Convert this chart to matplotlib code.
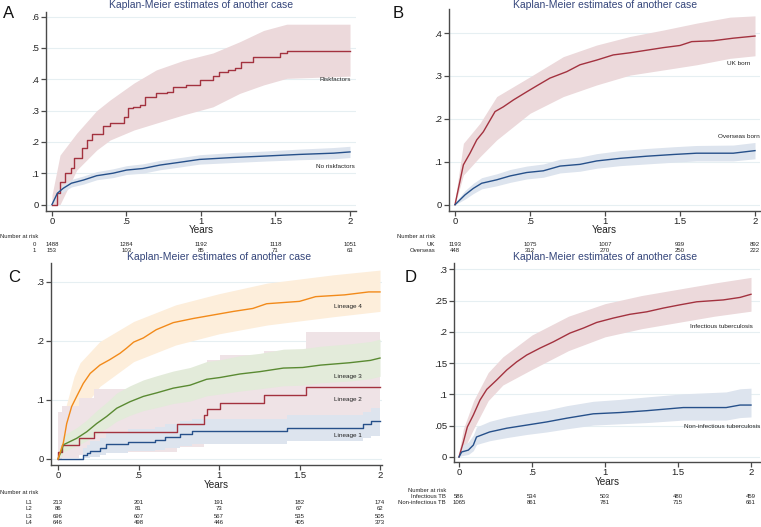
import matplotlib
matplotlib.use("Agg")
import matplotlib.pyplot as plt
import matplotlib.transforms as mtransforms
import numpy as np

plt.rcParams['font.family'] = ['Liberation Sans', 'DejaVu Sans']

W, H = 761, 527

# ---------------- DATA ----------------
risk_times = [0, 0.5, 1, 1.5, 2]

# Panel A
a_rf_t = [0, 0.036, 0.054, 0.087, 0.13, 0.148, 0.2, 0.237, 0.266, 0.344, 0.389, 0.48, 0.512, 0.546, 0.59, 0.624, 0.70, 0.77, 0.81, 0.90, 0.99, 1.08, 1.12, 1.18, 1.23, 1.27, 1.35, 1.42, 1.53, 1.575, 2.0]
a_rf_v = [0, 0.037, 0.073, 0.10, 0.116, 0.148, 0.18, 0.206, 0.225, 0.25, 0.26, 0.28, 0.307, 0.312, 0.318, 0.344, 0.355, 0.36, 0.374, 0.382, 0.398, 0.41, 0.424, 0.43, 0.435, 0.456, 0.47, 0.472, 0.483, 0.492, 0.492]
a_rf_ci_t = [0, 0.054, 0.166, 0.3, 0.39, 0.55, 0.70, 0.88, 1.08, 1.26, 1.42, 1.575, 2.0]
a_rf_hi = [0.03, 0.158, 0.228, 0.30, 0.334, 0.388, 0.43, 0.46, 0.484, 0.52, 0.556, 0.576, 0.576]
a_rf_lo = [0, 0.0, 0.11, 0.174, 0.206, 0.238, 0.26, 0.286, 0.312, 0.355, 0.382, 0.403, 0.41]

a_no_t = [0, 0.036, 0.076, 0.13, 0.21, 0.3, 0.41, 0.5, 0.61, 0.725, 0.86, 0.99, 1.21, 1.44, 1.66, 1.89, 2.0]
a_no_v = [0, 0.036, 0.052, 0.068, 0.078, 0.092, 0.10, 0.11, 0.115, 0.126, 0.135, 0.144, 0.15, 0.155, 0.16, 0.164, 0.168]
a_no_hi = [0.01, 0.046, 0.064, 0.080, 0.091, 0.105, 0.114, 0.124, 0.13, 0.141, 0.15, 0.159, 0.166, 0.171, 0.177, 0.182, 0.186]
a_no_lo = [0, 0.026, 0.040, 0.056, 0.065, 0.079, 0.086, 0.096, 0.10, 0.111, 0.12, 0.129, 0.134, 0.139, 0.143, 0.146, 0.150]

a_groups = ["0", "1"]
a_risk = [[1488, 1284, 1192, 1118, 1051], [153, 103, 85, 71, 63]]

# Panel B
b_uk_t = [0, 0.056, 0.1, 0.145, 0.189, 0.267, 0.322, 0.389, 0.478, 0.545, 0.633, 0.745, 0.833, 0.945, 1.055, 1.167, 1.278, 1.389, 1.5, 1.578, 1.72, 1.855, 2.0]
b_uk_v = [0, 0.093, 0.12, 0.151, 0.17, 0.217, 0.228, 0.244, 0.263, 0.277, 0.295, 0.31, 0.326, 0.337, 0.349, 0.354, 0.36, 0.366, 0.371, 0.38, 0.382, 0.388, 0.393]
b_uk_ci_t = [0, 0.056, 0.167, 0.278, 0.5, 0.722, 0.944, 1.167, 1.389, 1.61, 1.833, 2.0]
b_uk_hi = [0.01, 0.143, 0.19, 0.252, 0.298, 0.345, 0.372, 0.392, 0.407, 0.423, 0.437, 0.44]
b_uk_lo = [0, 0.069, 0.112, 0.151, 0.213, 0.252, 0.279, 0.302, 0.314, 0.326, 0.341, 0.347]

b_os_t = [0, 0.067, 0.122, 0.178, 0.278, 0.367, 0.478, 0.589, 0.7, 0.833, 0.945, 1.1, 1.278, 1.455, 1.61, 1.855, 2.0]
b_os_v = [0, 0.023, 0.038, 0.05, 0.058, 0.067, 0.075, 0.079, 0.09, 0.094, 0.102, 0.108, 0.113, 0.117, 0.12, 0.12, 0.126]
b_os_hi = [0.005, 0.033, 0.05, 0.063, 0.072, 0.082, 0.09, 0.095, 0.106, 0.111, 0.119, 0.126, 0.131, 0.135, 0.138, 0.139, 0.145]
b_os_lo = [0, 0.013, 0.026, 0.037, 0.044, 0.052, 0.06, 0.064, 0.074, 0.078, 0.085, 0.091, 0.095, 0.099, 0.102, 0.102, 0.107]

b_groups = ["UK", "Overseas"]
b_risk = [[1193, 1075, 1007, 939, 892], [448, 312, 270, 250, 222]]

# Panel C
c_l4_t = [0, 0.012, 0.033, 0.054, 0.085, 0.116, 0.157, 0.2, 0.26, 0.32, 0.385, 0.427, 0.47, 0.53, 0.61, 0.716, 0.84, 0.965, 1.09, 1.21, 1.296, 1.5, 1.6, 1.78, 1.93, 2.0]
c_l4_v = [0, 0.01, 0.027, 0.06, 0.089, 0.106, 0.128, 0.145, 0.159, 0.168, 0.179, 0.188, 0.198, 0.205, 0.219, 0.231, 0.238, 0.244, 0.25, 0.255, 0.263, 0.267, 0.275, 0.278, 0.283, 0.283]
c_l4_ci_t = [0, 0.05, 0.1, 0.137, 0.26, 0.47, 0.73, 1.0, 1.3, 1.71, 2.0]
c_l4_hi = [0.02, 0.09, 0.14, 0.163, 0.199, 0.233, 0.261, 0.28, 0.298, 0.312, 0.32]
c_l4_lo = [0, 0.02, 0.06, 0.08, 0.123, 0.165, 0.193, 0.212, 0.227, 0.241, 0.25]

c_l3_t = [0, 0.023, 0.033, 0.116, 0.178, 0.24, 0.302, 0.365, 0.447, 0.53, 0.613, 0.716, 0.82, 0.923, 1.006, 1.13, 1.255, 1.4, 1.52, 1.63, 1.81, 1.94, 2.0]
c_l3_v = [0, 0.015, 0.024, 0.035, 0.046, 0.06, 0.072, 0.086, 0.097, 0.106, 0.112, 0.12, 0.125, 0.135, 0.138, 0.144, 0.148, 0.154, 0.155, 0.159, 0.163, 0.167, 0.171]
c_l3_hi = [0.01, 0.03, 0.04, 0.053, 0.066, 0.082, 0.096, 0.112, 0.124, 0.134, 0.141, 0.149, 0.155, 0.165, 0.168, 0.175, 0.179, 0.186, 0.187, 0.191, 0.195, 0.199, 0.203]
c_l3_lo = [0, 0.005, 0.012, 0.022, 0.031, 0.042, 0.052, 0.064, 0.074, 0.082, 0.087, 0.094, 0.098, 0.107, 0.11, 0.115, 0.119, 0.124, 0.125, 0.129, 0.132, 0.136, 0.14]

c_l2_t = [0, 0.003, 0.023, 0.132, 0.224, 0.737, 0.907, 0.923, 1.006, 1.28, 1.54, 2.0]
c_l2_v = [0, 0.012, 0.024, 0.035, 0.046, 0.059, 0.074, 0.084, 0.095, 0.108, 0.122, 0.122]
c_l2_hi = [0.08, 0.08, 0.09, 0.104, 0.118, 0.14, 0.158, 0.168, 0.176, 0.183, 0.215, 0.215]
c_l2_lo = [0, 0, 0.002, 0.006, 0.012, 0.02, 0.03, 0.036, 0.044, 0.054, 0.066, 0.066]

c_l1_t = [0, 0.157, 0.182, 0.2, 0.26, 0.298, 0.437, 0.6, 0.665, 0.758, 0.83, 1.42, 1.896, 1.944, 2.0]
c_l1_v = [0, 0.006, 0.01, 0.014, 0.018, 0.025, 0.029, 0.032, 0.038, 0.042, 0.047, 0.053, 0.059, 0.064, 0.064]
c_l1_hi = [0, 0.018, 0.024, 0.03, 0.036, 0.045, 0.05, 0.054, 0.06, 0.064, 0.068, 0.074, 0.08, 0.086, 0.086]
c_l1_lo = [0, 0.001, 0.002, 0.004, 0.006, 0.01, 0.013, 0.015, 0.019, 0.022, 0.026, 0.03, 0.035, 0.039, 0.039]

c_groups = ["L1", "L2", "L3", "L4"]
c_risk = [[213, 201, 191, 182, 174], [86, 81, 73, 67, 62], [696, 607, 567, 535, 505], [646, 498, 446, 405, 373]]

# Panel D
d_in_t = [0, 0.03, 0.057, 0.098, 0.144, 0.19, 0.258, 0.327, 0.395, 0.464, 0.555, 0.646, 0.76, 0.852, 0.943, 1.057, 1.17, 1.286, 1.4, 1.51, 1.628, 1.81, 1.925, 2.0]
d_in_v = [0, 0.024, 0.048, 0.067, 0.091, 0.108, 0.123, 0.139, 0.152, 0.163, 0.174, 0.184, 0.198, 0.206, 0.215, 0.222, 0.228, 0.232, 0.238, 0.243, 0.248, 0.251, 0.255, 0.26]
d_in_ci_t = [0, 0.03, 0.1, 0.2, 0.3, 0.5, 0.75, 1.0, 1.25, 1.5, 1.75, 2.0]
d_in_hi = [0.008, 0.045, 0.09, 0.135, 0.16, 0.195, 0.225, 0.245, 0.258, 0.268, 0.278, 0.287]
d_in_lo = [0, 0.01, 0.045, 0.09, 0.115, 0.14, 0.17, 0.192, 0.205, 0.215, 0.225, 0.233]

d_ni_t = [0, 0.018, 0.064, 0.098, 0.12, 0.21, 0.327, 0.464, 0.6, 0.738, 0.92, 1.1, 1.286, 1.536, 1.83, 1.925, 2.0]
d_ni_v = [0, 0.008, 0.011, 0.019, 0.032, 0.04, 0.046, 0.051, 0.056, 0.062, 0.069, 0.071, 0.074, 0.079, 0.079, 0.083, 0.083]
d_ni_hi = [0.005, 0.018, 0.024, 0.035, 0.048, 0.057, 0.064, 0.07, 0.075, 0.082, 0.089, 0.092, 0.096, 0.101, 0.104, 0.109, 0.11]
d_ni_lo = [0, 0.002, 0.004, 0.01, 0.02, 0.026, 0.031, 0.036, 0.04, 0.045, 0.051, 0.053, 0.055, 0.059, 0.059, 0.063, 0.064]

d_groups = ["Infectious TB", "Non-infectious TB"]
d_risk = [[586, 534, 503, 480, 459], [1065, 861, 781, 715, 661]]

# ---------------- STYLE ----------------
RED = "#a3323f"
BLUE = "#26508a"
ORANGE = "#f28a1a"
GREEN = "#5a8a32"
RED_BAND = "#ecd9db"
BLUE_BAND = "#dde4ee"
ORANGE_BAND = "#fdeedb"
GREEN_BAND = "#e3ebda"
L2_BAND = "#efe3e6"
TITLE_C = "#34457a"
GRID_C = "#e6eff2"
SPINE_C = "#4a4a4a"
TXT = "#222222"

fig = plt.figure(figsize=(W / 100, H / 100), dpi=100)


def make_ax(left, right, top, bottom, xlim, ylim, yticks, ylabels):
    ax = fig.add_axes([left / W, 1 - bottom / H, (right - left) / W, (bottom - top) / H])
    ax.set_xlim(*xlim)
    ax.set_ylim(*ylim)
    for s in ["top", "right"]:
        ax.spines[s].set_visible(False)
    for s in ["left", "bottom"]:
        ax.spines[s].set_color(SPINE_C)
        ax.spines[s].set_linewidth(1.0)
    ax.set_xticks(risk_times)
    ax.set_xticklabels(["0", ".5", "1", "1.5", "2"])
    ax.set_yticks(yticks)
    ax.set_yticklabels(ylabels)
    ax.tick_params(axis="both", labelsize=6.8, length=3.5, width=0.9, color=SPINE_C, labelcolor=TXT, pad=1.5)
    ax.tick_params(axis="x", pad=1)
    for y in yticks:
        ax.axhline(y, color=GRID_C, lw=0.8, zorder=0)
    ax.set_xlabel("Years", fontsize=7.2, labelpad=-0.5, color=TXT)
    return ax


def fig_text(xpx, ypx, s, **kw):
    fig.text(xpx / W, 1 - ypx / H, s, **kw)


def risk_table(ax, groups, risks, right_px, head_y, row_ys, head_left=None):
    trans = mtransforms.blended_transform_factory(ax.transData, fig.transFigure)
    if head_left is not None:
        fig_text(head_left, head_y, "Number at risk", fontsize=4.2, ha="left", va="center", color=TXT)
    else:
        fig_text(right_px, head_y, "Number at risk", fontsize=4.2, ha="right", va="center", color=TXT)
    for g, r, yy in zip(groups, risks, row_ys):
        fig_text(right_px, yy, g, fontsize=4.3, ha="right", va="center", color=TXT)
        for t, n in zip(risk_times, r):
            ax.text(t, 1 - yy / H, str(n), transform=trans, fontsize=4.3, ha="center", va="center",
                    color=TXT, clip_on=False)


def band(ax, t, lo, hi, color, step=False):
    if step:
        ax.fill_between(t, lo, hi, step="post", color=color, lw=0, zorder=1)
    else:
        ax.fill_between(t, lo, hi, color=color, lw=0, zorder=1)


def line(ax, t, v, color, step=False):
    if step:
        ax.step(t, v, where="post", color=color, lw=1.0, zorder=3)
    else:
        ax.plot(t, v, color=color, lw=1.0, zorder=3)


LBL = dict(fontsize=4.6, ha="center", va="center", color=TXT)
TITLE = "Kaplan-Meier estimates of another case"

# ---------- Panel A ----------
axA = make_ax(46, 356, 12, 210.7, ((46 - 52) / 149, (356 - 52) / 149), (-0.0198, 0.615),
              [0, 0.1, 0.2, 0.3, 0.4, 0.5, 0.6], ["0", ".1", ".2", ".3", ".4", ".5", ".6"])
band(axA, a_rf_ci_t, a_rf_lo, a_rf_hi, RED_BAND)
band(axA, a_no_t, a_no_lo, a_no_hi, BLUE_BAND)
line(axA, a_rf_t, a_rf_v, RED, step=True)
line(axA, a_no_t, a_no_v, BLUE)
axA.text(1.90, 0.40, "Riskfactors", **LBL)
axA.text(1.90, 0.12, "No riskfactors", **LBL)
risk_table(axA, a_groups, a_risk, 36, 237, [244, 251], head_left=0)
fig_text(201, 4.5, TITLE, fontsize=7.5, ha="center", va="center", color=TITLE_C)
fig_text(3, 13, "A", fontsize=12, ha="left", va="center", color="#111111")

# ---------- Panel B ----------
axB = make_ax(449, 760, 9, 210.5, ((449 - 455) / 150, (760 - 455) / 150), (-0.0135, 0.456),
              [0, 0.1, 0.2, 0.3, 0.4], ["0", ".1", ".2", ".3", ".4"])
band(axB, b_uk_ci_t, b_uk_lo, b_uk_hi, RED_BAND)
band(axB, b_os_t, b_os_lo, b_os_hi, BLUE_BAND)
line(axB, b_uk_t, b_uk_v, RED)
line(axB, b_os_t, b_os_v, BLUE)
axB.text(1.89, 0.328, "UK born", **LBL)
axB.text(1.89, 0.16, "Overseas born", **LBL)
risk_table(axB, b_groups, b_risk, 435, 237, [244, 251])
fig_text(605, 4.5, TITLE, fontsize=7.5, ha="center", va="center", color=TITLE_C)
fig_text(393, 13, "B", fontsize=12, ha="left", va="center", color="#111111")

# ---------- Panel C ----------
axC = make_ax(51, 382, 263, 465, ((51 - 58) / 161, (382 - 58) / 161), (-0.0102, 0.332),
              [0, 0.1, 0.2, 0.3], ["0", ".1", ".2", ".3"])
band(axC, c_l4_ci_t, c_l4_lo, c_l4_hi, ORANGE_BAND)
band(axC, c_l2_t, c_l2_lo, c_l2_hi, L2_BAND, step=True)
band(axC, c_l3_t, c_l3_lo, c_l3_hi, GREEN_BAND)
band(axC, c_l1_t, c_l1_lo, c_l1_hi, BLUE_BAND, step=True)
line(axC, c_l1_t, c_l1_v, BLUE, step=True)
line(axC, c_l2_t, c_l2_v, RED, step=True)
line(axC, c_l3_t, c_l3_v, GREEN)
line(axC, c_l4_t, c_l4_v, ORANGE)
axC.text(1.80, 0.259, "Lineage 4", **LBL)
axC.text(1.80, 0.139, "Lineage 3", **LBL)
axC.text(1.80, 0.100, "Lineage 2", **LBL)
axC.text(1.80, 0.039, "Lineage 1", **LBL)
risk_table(axC, c_groups, c_risk, 32, 493, [502, 509, 516, 523], head_left=0)
fig_text(219, 257, TITLE, fontsize=7.5, ha="center", va="center", color=TITLE_C)
fig_text(8, 277, "C", fontsize=12, ha="left", va="center", color="#111111")

# ---------- Panel D ----------
axD = make_ax(454, 760, 263, 462, ((454 - 459) / 146, (760 - 459) / 146), (-0.008, 0.31),
              [0, 0.05, 0.1, 0.15, 0.2, 0.25, 0.3], ["0", ".05", ".1", ".15", ".2", ".25", ".3"])
band(axD, d_in_ci_t, d_in_lo, d_in_hi, RED_BAND)
band(axD, d_ni_t, d_ni_lo, d_ni_hi, BLUE_BAND)
line(axD, d_in_t, d_in_v, RED)
line(axD, d_ni_t, d_ni_v, BLUE)
axD.text(1.80, 0.209, "Infectious tuberculosis", **LBL)
axD.text(1.80, 0.0495, "Non-infectious tuberculosis", **LBL)
risk_table(axD, d_groups, d_risk, 446, 490, [496, 502])
fig_text(605, 257, TITLE, fontsize=7.5, ha="center", va="center", color=TITLE_C)
fig_text(405, 277, "D", fontsize=12, ha="left", va="center", color="#111111")

fig.savefig("out.png", dpi=100)
